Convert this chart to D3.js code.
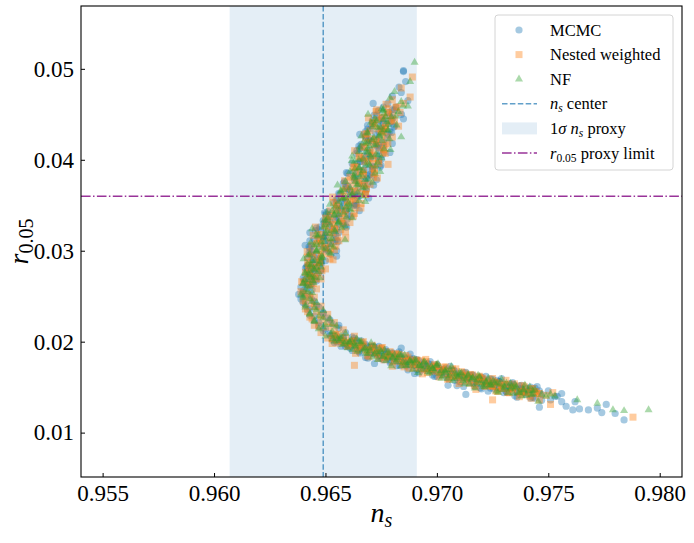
<!DOCTYPE html>
<html><head><meta charset="utf-8">
<script src="https://cdn.jsdelivr.net/npm/d3@7"></script>
<style>body{margin:0;background:#fff}svg{display:block}
svg text{font-family:'Liberation Serif','Times New Roman',serif}</style>
</head><body><svg id="c" width="694" height="543"></svg>
<script>
// ---- data (ns, r0.05) ----
const mcmc = [
[0.9685,0.0498],[0.9683,0.0480],[0.9680,0.0470],[0.9686,0.0486],[0.9678,0.0462],[0.9681,0.0455],[0.9676,0.0458],[0.9684,0.0474],[0.9687,0.0465],[0.9673,0.0449],
[0.9685,0.0497],[0.9668,0.0431],[0.9685,0.0445],[0.9665,0.0415],[0.9646,0.0325],[0.9643,0.0311],
[0.9679,0.0448],[0.9671,0.0443],[0.9676,0.0440],[0.9681,0.0437],[0.9669,0.0434],[0.9674,0.0431],[0.9678,0.0428],[0.9668,0.0425],[0.9673,0.0421],[0.9666,0.0417],[0.9676,0.0415],[0.9670,0.0411],[0.9664,0.0407],[0.9673,0.0404],[0.9667,0.0400],[0.9662,0.0396],[0.9671,0.0393],[0.9665,0.0389],[0.9660,0.0385],[0.9669,0.0382],[0.9663,0.0378],[0.9658,0.0374],[0.9667,0.0371],[0.9661,0.0367],[0.9656,0.0363],[0.9665,0.0360],
[0.9659,0.0357],[0.9654,0.0353],[0.9663,0.0350],[0.9657,0.0347],[0.9651,0.0343],[0.9660,0.0340],[0.9655,0.0337],[0.9649,0.0333],[0.9658,0.0330],[0.9652,0.0327],[0.9647,0.0323],[0.9656,0.0320],[0.9650,0.0316],[0.9645,0.0313],[0.9654,0.0310],[0.9648,0.0306],[0.9643,0.0303],[0.9651,0.0300],[0.9646,0.0296],[0.9642,0.0292],[0.9650,0.0289],[0.9645,0.0285],[0.9641,0.0281],[0.9648,0.0278],[0.9643,0.0274],[0.9640,0.0270],[0.9646,0.0267],[0.9642,0.0263],[0.9639,0.0260],[0.9644,0.0257],
[0.9640,0.0254],[0.9643,0.0251],[0.9639,0.0247],[0.9645,0.0244],[0.9641,0.0241],[0.9647,0.0238],[0.9642,0.0235],[0.9649,0.0232],[0.9643,0.0229],[0.9651,0.0226],[0.9645,0.0223],[0.9653,0.0220],[0.9647,0.0217],[0.9656,0.0215],[0.9649,0.0212],[0.9659,0.0210],[0.9652,0.0207],[0.9662,0.0205],[0.9655,0.0202],[0.9666,0.0201],
[0.9660,0.0196],[0.9663,0.0201],[0.9665,0.0192],[0.9668,0.0197],[0.9670,0.0189],[0.9672,0.0194],[0.9674,0.0185],[0.9676,0.0190],[0.9678,0.0182],[0.9680,0.0187],[0.9682,0.0179],[0.9684,0.0184],[0.9686,0.0176],[0.9688,0.0181],[0.9690,0.0174],[0.9692,0.0179],[0.9694,0.0171],[0.9696,0.0176],[0.9698,0.0169],[0.9700,0.0173],[0.9702,0.0166],[0.9704,0.0171],[0.9706,0.0164],[0.9708,0.0168],[0.9710,0.0161],[0.9712,0.0166],[0.9714,0.0159],[0.9716,0.0163],[0.9718,0.0157],[0.9720,0.0161],
[0.9722,0.0154],[0.9724,0.0159],[0.9726,0.0152],[0.9728,0.0156],[0.9731,0.0150],[0.9733,0.0154],[0.9736,0.0147],[0.9738,0.0152],[0.9741,0.0145],[0.9744,0.0149],[0.9747,0.0142],[0.9750,0.0146],[0.9753,0.0140],[0.9756,0.0143],
[0.9713,0.0142],[0.9746,0.0128],[0.9758,0.0129],[0.9761,0.0125],[0.9764,0.0126],[0.9768,0.0125],[0.9772,0.0127],[0.9774,0.0122],[0.9776,0.0131],[0.9780,0.0121],[0.9784,0.0114],[0.9762,0.0134],[0.9756,0.0134],[0.9754,0.0140],[0.9751,0.0136],
[0.9705,0.0152],[0.9690,0.0165],[0.9672,0.0176],[0.9684,0.0193],[0.9657,0.0195],
[0.96420,0.0262],[0.96430,0.0266],[0.96438,0.0270],[0.96424,0.0274],[0.96445,0.0278],[0.96415,0.0282],[0.96482,0.0286],[0.96444,0.0290],[0.96550,0.0294],[0.96427,0.0298],
[0.96503,0.0302],[0.96409,0.0306],[0.96555,0.0310],[0.96491,0.0314],[0.96537,0.0318],[0.96455,0.0322],[0.96595,0.0326],[0.96495,0.0330],[0.96545,0.0334],[0.96615,0.0338],
[0.96496,0.0342],[0.96598,0.0346],[0.96640,0.0350],[0.96572,0.0354],[0.96694,0.0358],[0.96564,0.0362],[0.96643,0.0366],[0.96592,0.0370],[0.96690,0.0374],[0.96729,0.0378],
[0.96647,0.0382],[0.96594,0.0386],[0.96712,0.0390],[0.96749,0.0394],[0.96656,0.0398],[0.96702,0.0402],[0.96757,0.0406],[0.96641,0.0410],[0.96735,0.0414],[0.96800,0.0418],
[0.96695,0.0422],[0.96681,0.0426],[0.96797,0.0430],[0.96753,0.0434],[0.96689,0.0438],[0.96796,0.0442],[0.96753,0.0446],[0.96841,0.0450],[0.96738,0.0454],[0.96816,0.0458],[0.96714,0.0462],
[0.96440,0.0264],[0.96406,0.0268],[0.96436,0.0272],[0.96471,0.0276],[0.96437,0.0280],[0.96418,0.0284],[0.96480,0.0288],[0.96477,0.0292],[0.96433,0.0296],[0.96550,0.0300],
[0.96426,0.0304],[0.96512,0.0308],[0.96548,0.0312],[0.96494,0.0316],[0.96430,0.0320],[0.96550,0.0324],[0.96590,0.0328],[0.96510,0.0332],[0.96560,0.0336],[0.96510,0.0340],
[0.96652,0.0344],[0.96564,0.0348],[0.96636,0.0352],[0.96548,0.0356],[0.96620,0.0360],[0.96678,0.0364],[0.96597,0.0368],[0.96716,0.0372],[0.96585,0.0376],[0.96683,0.0380],
[0.96700,0.0384],[0.96668,0.0388],[0.96745,0.0392],[0.96642,0.0396],[0.96740,0.0400],[0.96674,0.0404],[0.96789,0.0408],[0.96653,0.0412],[0.96727,0.0416],[0.96702,0.0420],
[0.96778,0.0424],[0.96654,0.0428],[0.96760,0.0432],[0.96806,0.0436],[0.96712,0.0440],[0.96760,0.0444],
[0.96434,0.0263],[0.96408,0.0266],[0.96457,0.0269],[0.96431,0.0272],[0.96455,0.0275],[0.96419,0.0278],[0.96449,0.0281],[0.96474,0.0284],[0.96444,0.0287],[0.96474,0.0290],
[0.96449,0.0293],[0.96524,0.0296],[0.96438,0.0299],[0.96503,0.0302],[0.96438,0.0305],[0.96522,0.0308],[0.96497,0.0311],[0.96471,0.0314],[0.96546,0.0317],[0.96500,0.0320],
[0.96528,0.0323],[0.96475,0.0326],[0.96563,0.0329],[0.96520,0.0332],[0.96598,0.0335],[0.96515,0.0338],[0.96563,0.0341],[0.96591,0.0344],[0.96549,0.0347],[0.96628,0.0350],
[0.96586,0.0353],[0.96554,0.0356],[0.96642,0.0359],[0.96630,0.0362],[0.96607,0.0365],[0.96684,0.0368],[0.96601,0.0371],[0.96648,0.0374],[0.96676,0.0377],[0.96633,0.0380],
[0.96709,0.0383],[0.96624,0.0386],[0.96690,0.0389],[0.96715,0.0392],[0.96681,0.0395],[0.96656,0.0398],[0.96751,0.0401],[0.96704,0.0404],[0.96688,0.0407],[0.96741,0.0410],
[0.96664,0.0413],[0.96738,0.0416],[0.96761,0.0419],[0.96695,0.0422],[0.96740,0.0425],[0.96724,0.0428],[0.96789,0.0431],[0.96703,0.0434],[0.96748,0.0437],[0.96782,0.0440],
[0.96738,0.0443],[0.96803,0.0446],[0.96719,0.0449],[0.96785,0.0452],[0.96800,0.0455],
[0.9652,0.0209],[0.9654,0.0199],[0.9656,0.0203],[0.9658,0.0205],[0.9660,0.0196],[0.9662,0.01904],[0.9664,0.02018],[0.9666,0.01932],[0.9668,0.01826],[0.9670,0.0194],
[0.9672,0.01864],[0.9674,0.01948],[0.9676,0.01802],[0.9678,0.01846],[0.9680,0.0188],[0.9682,0.01736],[0.9684,0.01822],[0.9686,0.01738],[0.9688,0.01864],[0.9690,0.0174],
[0.9692,0.01656],[0.9694,0.01772],[0.9696,0.01728],[0.9698,0.01634],[0.9700,0.0175],[0.9702,0.01636],[0.9704,0.01652],[0.9706,0.01728],[0.9708,0.01574],[0.9710,0.0165],
[0.9712,0.01508],[0.9714,0.01596],[0.9716,0.01634],[0.9718,0.01542],[0.9720,0.0148],[0.9722,0.0162],[0.9724,0.0149],[0.9726,0.0155],[0.9728,0.0156],[0.9730,0.0144],
[0.9732,0.0149],[0.9734,0.0155],[0.9736,0.0139],[0.9738,0.0148],[0.9740,0.0142],[0.9742,0.0150],[0.9744,0.0138],[0.9746,0.0146],
[0.9653,0.02026],[0.9655,0.02066],[0.9657,0.02004],[0.9659,0.01948],[0.9661,0.0199],[0.9663,0.02036],[0.9665,0.0189],[0.9667,0.01944],[0.9669,0.01818],[0.9671,0.01942],
[0.9673,0.01876],[0.9675,0.0183],[0.9677,0.01914],[0.9679,0.01768],[0.9681,0.01823],[0.9683,0.01889],[0.9685,0.01765],[0.9687,0.01691],[0.9689,0.01797],[0.9691,0.01803],
[0.9693,0.01689],[0.9695,0.01705],[0.9697,0.01781],[0.9699,0.01617],[0.9701,0.01703],[0.9703,0.01679],[0.9705,0.01595],[0.9707,0.01681],[0.9709,0.01517],[0.9711,0.01604],
[0.9713,0.01662],[0.9715,0.0155],[0.9717,0.01508],[0.9719,0.01596],[0.9721,0.01555],[0.9723,0.01455],[0.9725,0.01585],[0.9727,0.01495],[0.9729,0.01595],[0.9731,0.01455],
[0.9733,0.01515],[0.9735,0.01405],[0.9737,0.01515],[0.9739,0.01445],[0.9741,0.01465],[0.9743,0.01385],[0.9745,0.01505],[0.9747,0.01355],
[0.96535,0.02063],[0.96550,0.0200],[0.96565,0.02021],[0.96580,0.02036],[0.96595,0.01973],[0.96610,0.01932],[0.96625,0.0201],[0.96640,0.01948],[0.96655,0.01876],[0.96670,0.01944],
[0.96685,0.01952],[0.96700,0.0187],[0.96715,0.01948],[0.96730,0.01866],[0.96745,0.01814],[0.96760,0.01872],[0.96775,0.0189],[0.96790,0.01788],[0.96805,0.01817],[0.96820,0.01836],
[0.96835,0.01736],[0.96850,0.01795],[0.96865,0.01815],[0.96880,0.01744],[0.96895,0.01814],[0.96910,0.01693],[0.96925,0.01733],[0.96940,0.01752],[0.96955,0.01682],[0.96970,0.01751],
[0.96985,0.01681],[0.97000,0.0162],[0.97015,0.0169],[0.97030,0.01699],[0.97045,0.01609],[0.97060,0.01648],[0.97075,0.01688],[0.97090,0.01597],[0.97105,0.01557],[0.97120,0.01628],
[0.97135,0.01589],[0.97150,0.0163],[0.97165,0.01541],[0.97180,0.01582],[0.97195,0.01493],[0.97210,0.01585],[0.97225,0.01528],[0.97240,0.0154],[0.97255,0.01483],[0.97270,0.01575],
[0.97285,0.01488],[0.97300,0.0153],[0.97315,0.01443],[0.97330,0.01485],[0.97345,0.01528],[0.97360,0.0144],[0.97375,0.01483],[0.97390,0.01445],[0.97405,0.01488],[0.97420,0.0138],[0.97435,0.01443],
[0.9641,0.0250],[0.9644,0.0246],[0.9640,0.0243],[0.9646,0.0240],[0.9643,0.0236],[0.9649,0.0231],[0.9645,0.0228],[0.9652,0.0224],[0.9647,0.0221],[0.9656,0.0218],[0.9650,0.0214],[0.9640,0.0256],[0.9638,0.0252],[0.9642,0.0259]
];
const nested = [
[0.9689,0.0491],[0.9688,0.0469],[0.9684,0.0479],[0.9680,0.0466],[0.9673,0.0444],[0.9682,0.0458],[0.9678,0.0452],[0.9685,0.0462],
[0.9675,0.0446],[0.9679,0.0442],[0.9672,0.0438],[0.9677,0.0435],[0.9670,0.0432],[0.9675,0.0428],[0.9668,0.0424],[0.9673,0.0420],[0.9678,0.0418],[0.9667,0.0414],[0.9671,0.0410],[0.9676,0.0408],[0.9665,0.0403],[0.9669,0.0399],[0.9674,0.0396],[0.9663,0.0392],[0.9667,0.0388],[0.9672,0.0385],[0.9661,0.0381],[0.9665,0.0377],[0.9670,0.0373],[0.9659,0.0369],[0.9663,0.0366],[0.9668,0.0362],
[0.9657,0.0359],[0.9661,0.0355],[0.9666,0.0352],[0.9655,0.0349],[0.9659,0.0345],[0.9663,0.0341],[0.9652,0.0338],[0.9657,0.0335],[0.9661,0.0331],[0.9650,0.0328],[0.9654,0.0325],[0.9659,0.0321],[0.9648,0.0318],[0.9652,0.0314],[0.9656,0.0311],[0.9646,0.0308],[0.9650,0.0304],[0.9654,0.0301],[0.9644,0.0298],[0.9648,0.0294],[0.9652,0.0291],[0.9642,0.0287],[0.9646,0.0283],[0.9650,0.0280],[0.9641,0.0276],[0.9645,0.0272],[0.9648,0.0269],[0.9640,0.0265],[0.9643,0.0262],[0.9646,0.0258],
[0.9639,0.0255],[0.9642,0.0252],[0.9645,0.0249],[0.9640,0.0245],[0.9644,0.0242],[0.9648,0.0239],[0.9641,0.0236],[0.9646,0.0233],[0.9651,0.0230],[0.9643,0.0227],[0.9648,0.0224],[0.9654,0.0221],[0.9645,0.0218],[0.9651,0.0216],[0.9658,0.0213],[0.9648,0.0210],[0.9655,0.0208],[0.9663,0.0206],[0.9651,0.0204],[0.9659,0.0199],
[0.9662,0.0198],[0.9664,0.0194],[0.9667,0.0200],[0.9669,0.0191],[0.9671,0.0196],[0.9673,0.0188],[0.9675,0.0193],[0.9677,0.0184],[0.9679,0.0189],[0.9681,0.0181],[0.9683,0.0186],[0.9685,0.0178],[0.9687,0.0183],[0.9689,0.0175],[0.9691,0.0180],[0.9693,0.0173],[0.9695,0.0178],[0.9697,0.0170],[0.9699,0.0175],[0.9701,0.0167],[0.9703,0.0172],[0.9705,0.0165],[0.9707,0.0170],[0.9709,0.0162],[0.9711,0.0167],[0.9713,0.0160],[0.9715,0.0164],[0.9717,0.0158],[0.9719,0.0162],[0.9721,0.0156],
[0.9723,0.0158],[0.9725,0.0151],[0.9727,0.0155],[0.9729,0.0149],[0.9732,0.0153],[0.9734,0.0147],[0.9738,0.0145],[0.9742,0.0148],[0.9745,0.0143],[0.9749,0.0141],[0.9752,0.0144],
[0.9788,0.0117],[0.9751,0.0131],[0.9746,0.0143],[0.9738,0.0145],[0.9725,0.0151],[0.9719,0.0161],[0.9725,0.0136],[0.9663,0.0174],[0.9653,0.0198],
[0.96425,0.0263],[0.96393,0.0266],[0.96457,0.0269],[0.96436,0.0272],[0.96420,0.0275],[0.96484,0.0278],[0.96439,0.0281],[0.96424,0.0284],[0.96474,0.0287],[0.96534,0.0290],
[0.96419,0.0293],[0.96484,0.0296],[0.96418,0.0299],[0.96523,0.0302],[0.96547,0.0305],[0.96482,0.0308],[0.96466,0.0311],[0.96591,0.0314],[0.96445,0.0317],[0.96530,0.0320],
[0.96568,0.0323],[0.96455,0.0326],[0.96533,0.0329],[0.96580,0.0332],[0.96508,0.0335],[0.96625,0.0338],[0.96543,0.0341],[0.96521,0.0344],[0.96659,0.0347],[0.96598,0.0350],
[0.96536,0.0353],[0.96634,0.0356],[0.96532,0.0359],[0.96680,0.0362],[0.96617,0.0365],[0.96684,0.0368],[0.96611,0.0371],[0.96668,0.0374],[0.96586,0.0377],[0.96733,0.0380],
[0.96669,0.0383],[0.96634,0.0386],[0.96720,0.0389],[0.96625,0.0392],[0.96781,0.0395],[0.96676,0.0398],[0.96711,0.0401],[0.96654,0.0404],[0.96768,0.0407],[0.96631,0.0410],
[0.96744,0.0413],[0.96768,0.0416],[0.96691,0.0419],[0.96725,0.0422],[0.96800,0.0425],[0.96674,0.0428],[0.96759,0.0431],[0.96733,0.0434],[0.96828,0.0437],[0.96712,0.0440],
[0.96798,0.0443],[0.96693,0.0446],[0.96779,0.0449],[0.96835,0.0452],[0.96730,0.0455],[0.96816,0.0458],[0.96772,0.0461],
[0.96445,0.0264],[0.96414,0.0267],[0.96439,0.0270],[0.96428,0.0273],[0.96467,0.0276],[0.96426,0.0279],[0.96460,0.0282],[0.96430,0.0285],[0.96475,0.0288],[0.96465,0.0291],
[0.96440,0.0294],[0.96515,0.0297],[0.96470,0.0300],[0.96495,0.0303],[0.96439,0.0306],[0.96524,0.0309],[0.96478,0.0312],[0.96553,0.0315],[0.96467,0.0318],[0.96513,0.0321],
[0.96540,0.0324],[0.96498,0.0327],[0.96575,0.0330],[0.96533,0.0333],[0.96500,0.0336],[0.96588,0.0339],[0.96576,0.0342],[0.96554,0.0345],[0.96632,0.0348],[0.96550,0.0351],
[0.96599,0.0354],[0.96627,0.0357],[0.96585,0.0360],[0.96662,0.0363],[0.96579,0.0366],[0.96647,0.0369],[0.96674,0.0372],[0.96641,0.0375],[0.96618,0.0378],[0.96715,0.0381],
[0.96671,0.0384],[0.96656,0.0387],[0.96712,0.0390],[0.96637,0.0393],[0.96713,0.0396],[0.96738,0.0399],[0.96672,0.0402],[0.96716,0.0405],[0.96699,0.0408],[0.96762,0.0411],
[0.96675,0.0414],[0.96719,0.0417],[0.96752,0.0420],[0.96707,0.0423],[0.96771,0.0426],[0.96686,0.0429],[0.96750,0.0432],[0.96765,0.0435],[0.96769,0.0438],[0.96714,0.0441],
[0.96810,0.0444],[0.96755,0.0447],[0.96801,0.0450],[0.96727,0.0453],[0.96782,0.0456],
[0.96530,0.02032],[0.96545,0.02077],[0.96560,0.01984],[0.96575,0.02011],[0.96590,0.02044],[0.96605,0.01952],[0.96620,0.02004],[0.96635,0.01872],[0.96650,0.0196],[0.96665,0.01988],
[0.96680,0.01906],[0.96695,0.01834],[0.96710,0.01942],[0.96725,0.0188],[0.96740,0.01818],[0.96755,0.01936],[0.96770,0.01824],[0.96785,0.01862],[0.96800,0.0173],[0.96815,0.0187],
[0.96830,0.01809],[0.96845,0.01749],[0.96860,0.01848],[0.96875,0.01708],[0.96890,0.01777],[0.96905,0.01787],[0.96920,0.01706],[0.96935,0.01646],[0.96950,0.01805],[0.96965,0.01705],
[0.96980,0.01674],[0.96995,0.01734],[0.97010,0.01613],[0.97025,0.01693],[0.97040,0.01722],[0.97055,0.01592],[0.97070,0.01621],[0.97085,0.01701],[0.97100,0.0154],[0.97115,0.01621],
[0.97130,0.01632],[0.97145,0.01543],[0.97160,0.01634],[0.97175,0.01475],[0.97190,0.01566],[0.97205,0.01598],[0.97220,0.0151],[0.97235,0.01533],[0.97250,0.01595],[0.97265,0.01458],
[0.97280,0.0154],[0.97295,0.01483],[0.97310,0.01575],[0.97325,0.01438],[0.97340,0.0149],[0.97355,0.01513],[0.97370,0.01395],[0.97385,0.01518],[0.97400,0.0144],[0.97415,0.01403],
[0.97430,0.01485],[0.97445,0.01448],[0.97460,0.0136],
[0.96538,0.02067],[0.96553,0.0201],[0.96568,0.02049],[0.96583,0.01992],[0.96598,0.01953],[0.96613,0.01982],[0.96628,0.02008],[0.96643,0.01906],[0.96658,0.01934],[0.96673,0.01952],
[0.96688,0.0185],[0.96703,0.01908],[0.96718,0.01926],[0.96733,0.01854],[0.96748,0.01922],[0.96763,0.0180],[0.96778,0.01838],[0.96793,0.01856],[0.96808,0.01785],[0.96823,0.01854],
[0.96838,0.01784],[0.96853,0.01723],[0.96868,0.01793],[0.96883,0.01802],[0.96898,0.01712],[0.96913,0.01751],[0.96928,0.01791],[0.96943,0.0170],[0.96958,0.0166],[0.96973,0.01729],
[0.96988,0.01689],[0.97003,0.01728],[0.97018,0.01638],[0.97033,0.01677],[0.97048,0.01587],[0.97063,0.01676],[0.97078,0.01616],[0.97093,0.01625],[0.97108,0.01565],[0.97123,0.01656],
[0.97138,0.01567],[0.97153,0.01608],[0.97168,0.01519],[0.97183,0.0156],[0.97198,0.01601],[0.97213,0.01513],[0.97228,0.01556],[0.97243,0.01518],[0.97258,0.01561],[0.97273,0.01453],
[0.97288,0.01516],[0.97303,0.01528],[0.97318,0.01441],[0.97333,0.01493],[0.97348,0.01536],[0.97363,0.01448],[0.97378,0.01421],[0.97393,0.01503],[0.97408,0.01446],[0.97423,0.01378],[0.97438,0.01451],
[0.9640,0.0253],[0.9643,0.0249],[0.9641,0.0244],[0.9645,0.0239],[0.9642,0.0233],[0.9648,0.0229],[0.9644,0.0225],[0.9651,0.0222],[0.9647,0.0217],[0.9654,0.0215]
];
const nf = [
[0.9690,0.0507],[0.9688,0.0486],[0.9687,0.0459],[0.9684,0.0464],[0.9681,0.0475],[0.9684,0.0425],[0.9662,0.0404],[0.9679,0.0468],[0.9676,0.0455],
[0.9677,0.0447],[0.9673,0.0443],[0.9678,0.0439],[0.9671,0.0436],[0.9676,0.0433],[0.9669,0.0429],[0.9674,0.0426],[0.9671,0.0422],[0.9667,0.0419],[0.9672,0.0416],[0.9669,0.0412],[0.9665,0.0409],[0.9670,0.0405],[0.9667,0.0401],[0.9663,0.0398],[0.9668,0.0394],[0.9665,0.0391],[0.9661,0.0387],[0.9666,0.0384],[0.9663,0.0380],[0.9659,0.0376],[0.9664,0.0372],[0.9661,0.0369],[0.9657,0.0365],[0.9662,0.0361],
[0.9659,0.0358],[0.9656,0.0354],[0.9661,0.0351],[0.9657,0.0348],[0.9653,0.0344],[0.9658,0.0342],[0.9654,0.0339],[0.9651,0.0336],[0.9656,0.0332],[0.9652,0.0329],[0.9649,0.0326],[0.9654,0.0323],[0.9650,0.0319],[0.9647,0.0317],[0.9652,0.0313],[0.9648,0.0309],[0.9645,0.0306],[0.9650,0.0302],[0.9646,0.0299],[0.9643,0.0296],[0.9648,0.0292],[0.9644,0.0289],[0.9642,0.0285],[0.9646,0.0282],[0.9643,0.0278],[0.9641,0.0275],[0.9645,0.0271],[0.9642,0.0268],[0.9640,0.0264],[0.9643,0.0261],
[0.9641,0.0257],[0.9644,0.0254],[0.9640,0.0250],[0.9643,0.0247],[0.9646,0.0243],[0.9641,0.0240],[0.9645,0.0237],[0.9649,0.0234],[0.9643,0.0231],[0.9647,0.0228],[0.9652,0.0225],[0.9645,0.0222],[0.9650,0.0219],[0.9655,0.0217],[0.9647,0.0214],[0.9653,0.0211],[0.9659,0.0209],[0.9650,0.0206],[0.9657,0.0203],[0.9664,0.0203],
[0.9661,0.0199],[0.9663,0.0195],[0.9666,0.0198],[0.9668,0.0193],[0.9670,0.0190],[0.9672,0.0195],[0.9674,0.0187],[0.9676,0.0184],[0.9678,0.0188],[0.9680,0.0183],[0.9682,0.0180],[0.9684,0.0185],[0.9686,0.0177],[0.9688,0.0179],[0.9690,0.0176],[0.9692,0.0174],[0.9694,0.0177],[0.9696,0.0172],[0.9698,0.0170],[0.9700,0.0174],[0.9702,0.0168],[0.9704,0.0166],[0.9706,0.0169],[0.9708,0.0165],[0.9710,0.0163],[0.9712,0.0161],[0.9714,0.0164],[0.9716,0.0160],[0.9718,0.0158],[0.9720,0.0157],
[0.9722,0.0156],[0.9724,0.0153],[0.9727,0.0154],[0.9730,0.0151],[0.9733,0.0154],[0.9735,0.0149],[0.9739,0.0147],[0.9743,0.0146],[0.9747,0.0142],[0.9751,0.0142],
[0.9795,0.0125],[0.9784,0.0124],[0.9779,0.0125],[0.9772,0.0132],[0.9763,0.0136],[0.9753,0.0140],[0.9749,0.0140],
[0.96400,0.0264],[0.96444,0.0267],[0.96474,0.0270],[0.96428,0.0273],[0.96407,0.0276],[0.96451,0.0279],[0.96480,0.0282],[0.96435,0.0285],[0.96480,0.0288],[0.96402,0.0291],
[0.96484,0.0294],[0.96524,0.0297],[0.96459,0.0300],[0.96485,0.0303],[0.96524,0.0306],[0.96434,0.0309],[0.96588,0.0312],[0.96493,0.0315],[0.96457,0.0318],[0.96543,0.0321],
[0.96440,0.0324],[0.96588,0.0327],[0.96555,0.0330],[0.96503,0.0333],[0.96620,0.0336],[0.96538,0.0339],[0.96506,0.0342],[0.96614,0.0345],[0.96592,0.0348],[0.96520,0.0351],
[0.96679,0.0354],[0.96577,0.0357],[0.96665,0.0360],[0.96622,0.0363],[0.96569,0.0366],[0.96667,0.0369],[0.96554,0.0372],[0.96711,0.0375],[0.96678,0.0378],[0.96655,0.0381],
[0.96631,0.0384],[0.96746,0.0387],[0.96632,0.0390],[0.96727,0.0393],[0.96693,0.0396],[0.96618,0.0399],[0.96752,0.0402],[0.96736,0.0405],[0.96689,0.0408],[0.96792,0.0411],
[0.96655,0.0414],[0.96729,0.0417],[0.96692,0.0420],[0.96787,0.0423],[0.96661,0.0426],[0.96756,0.0429],[0.96780,0.0432],[0.96735,0.0435],[0.96819,0.0438],[0.96704,0.0441],
[0.96760,0.0444],[0.96795,0.0447],[0.96691,0.0450],[0.96827,0.0453],[0.96752,0.0456],[0.96848,0.0459],
[0.96413,0.0262],[0.96447,0.0265],[0.96406,0.0268],[0.96440,0.0271],[0.96424,0.0274],[0.96468,0.0277],[0.96447,0.0280],[0.96432,0.0283],[0.96472,0.0286],[0.96452,0.0289],
[0.96487,0.0292],[0.96422,0.0295],[0.96517,0.0298],[0.96462,0.0301],[0.96536,0.0304],[0.96461,0.0307],[0.96495,0.0310],[0.96530,0.0313],[0.96464,0.0316],[0.96519,0.0319],
[0.96505,0.0322],[0.96573,0.0325],[0.96500,0.0328],[0.96558,0.0331],[0.96495,0.0334],[0.96593,0.0337],[0.96560,0.0340],[0.96548,0.0343],[0.96607,0.0346],[0.96545,0.0349],
[0.96603,0.0352],[0.96651,0.0355],[0.96580,0.0358],[0.96607,0.0361],[0.96645,0.0364],[0.96582,0.0367],[0.96679,0.0370],[0.96646,0.0373],[0.96633,0.0376],[0.96691,0.0379],
[0.96627,0.0382],[0.96722,0.0385],[0.96668,0.0388],[0.96653,0.0391],[0.96699,0.0394],[0.96734,0.0397],[0.96650,0.0400],[0.96703,0.0403],[0.96727,0.0406],[0.96680,0.0409],
[0.96763,0.0412],[0.96697,0.0415],[0.96680,0.0418],[0.96754,0.0421],[0.96718,0.0424],[0.96743,0.0427],[0.96687,0.0430],[0.96782,0.0433],[0.96746,0.0436],[0.96721,0.0439],
[0.96776,0.0442],[0.96721,0.0445],[0.96817,0.0448],[0.96763,0.0451],[0.96758,0.0454],
[0.96525,0.02079],[0.96540,0.02004],[0.96555,0.02031],[0.96570,0.02058],[0.96585,0.01977],[0.96600,0.01932],[0.96615,0.02018],[0.96630,0.01976],[0.96645,0.01894],[0.96660,0.02002],
[0.96675,0.0192],[0.96690,0.01868],[0.96705,0.01986],[0.96720,0.01864],[0.96735,0.01802],[0.96750,0.0189],[0.96765,0.01908],[0.96780,0.01826],[0.96795,0.01734],[0.96810,0.01853],
[0.96825,0.01823],[0.96840,0.01732],[0.96855,0.01852],[0.96870,0.01741],[0.96885,0.01771],[0.96900,0.0180],[0.96915,0.0166],[0.96930,0.01729],[0.96945,0.01779],[0.96960,0.01668],
[0.96975,0.01728],[0.96990,0.01677],[0.97005,0.01757],[0.97020,0.01596],[0.97035,0.01676],[0.97050,0.01595],[0.97065,0.01725],[0.97080,0.01594],[0.97095,0.01614],[0.97110,0.01654],
[0.97125,0.01535],[0.97140,0.01626],[0.97155,0.01587],[0.97170,0.01488],[0.97185,0.01629],[0.97200,0.0153],[0.97215,0.01503],[0.97230,0.01595],[0.97245,0.01518],[0.97260,0.0155],
[0.97275,0.01443],[0.97290,0.01585],[0.97305,0.01498],[0.97320,0.0144],[0.97335,0.01503],[0.97350,0.01525],[0.97365,0.01438],[0.97380,0.0140],[0.97395,0.01523],[0.97410,0.01455],
[0.97425,0.01418],[0.97440,0.0147],[0.97455,0.01343],
[0.96532,0.0203],[0.96547,0.02063],[0.96562,0.02012],[0.96577,0.01967],[0.96592,0.0200],[0.96607,0.01998],[0.96622,0.01912],[0.96637,0.0195],[0.96652,0.01998],[0.96667,0.01906],
[0.96682,0.01874],[0.96697,0.01932],[0.96712,0.0183],[0.96727,0.01888],[0.96742,0.01916],[0.96757,0.01834],[0.96772,0.01792],[0.96787,0.0187],[0.96802,0.01819],[0.96817,0.01778],
[0.96832,0.01858],[0.96847,0.01777],[0.96862,0.01737],[0.96877,0.01786],[0.96892,0.01696],[0.96907,0.01795],[0.96922,0.01735],[0.96937,0.01694],[0.96952,0.01744],[0.96967,0.01653],
[0.96982,0.01703],[0.96997,0.01742],[0.97012,0.01652],[0.97027,0.01621],[0.97042,0.01691],[0.97057,0.0163],[0.97072,0.0157],[0.97087,0.01639],[0.97102,0.01659],[0.97117,0.0157],
[0.97132,0.01591],[0.97147,0.01532],[0.97162,0.01603],[0.97177,0.01544],[0.97192,0.01615],[0.97207,0.01507],[0.97222,0.0155],[0.97237,0.01522],[0.97252,0.01565],[0.97267,0.01457],
[0.97282,0.0153],[0.97297,0.01472],[0.97312,0.01545],[0.97327,0.01487],[0.97342,0.0143],[0.97357,0.01502],[0.97372,0.01445],[0.97387,0.01467],[0.97402,0.0141],[0.97417,0.01502],[0.97432,0.01425],
[0.9642,0.0255],[0.9640,0.0248],[0.9644,0.0244],[0.9641,0.0238],[0.9646,0.0235],[0.9643,0.0230],[0.9649,0.0226],[0.9645,0.0223],[0.9653,0.0219],[0.9649,0.0216],[0.9639,0.0252]
];
const xTicks = [0.955, 0.960, 0.965, 0.970, 0.975, 0.980];
const yTicks = [0.01, 0.02, 0.03, 0.04, 0.05];
const nsCenter = 0.9649;
const nsBand = [0.9607, 0.9691];
const rLimit = 0.036;
const xDomain = [0.95403, 0.98100];
const yDomain = [0.00512, 0.05691];

// ---- layout ----
const L = 81, R = 682, T = 6, B = 477;
const FONT = "'Liberation Serif','Times New Roman',serif";
const svg = d3.select("#c");
const x = d3.scaleLinear().domain(xDomain).range([L, R]);
const y = d3.scaleLinear().domain(yDomain).range([B, T]);
const blue = "#1f77b4", orange = "#ff7f0e", green = "#2ca02c";

svg.append("defs").append("clipPath").attr("id","clip")
  .append("rect").attr("x",L).attr("y",T).attr("width",R-L).attr("height",B-T);
const plot = svg.append("g").attr("clip-path","url(#clip)");

plot.append("rect").attr("x", x(nsBand[0])).attr("y", T)
  .attr("width", x(nsBand[1]) - x(nsBand[0])).attr("height", B - T)
  .attr("fill", blue).attr("fill-opacity", 0.12);
plot.append("line").attr("x1", x(nsCenter)).attr("x2", x(nsCenter)).attr("y1", T).attr("y2", B)
  .attr("stroke", blue).attr("stroke-opacity", 0.7).attr("stroke-width", 1.5).attr("stroke-dasharray", "5.5,2.4");

const cr = 3.6, sq = 7.0;
plot.append("g").selectAll("circle").data(mcmc).join("circle")
  .attr("cx", d => x(d[0])).attr("cy", d => y(d[1])).attr("r", cr)
  .attr("fill", blue).attr("fill-opacity", 0.4);
plot.append("g").selectAll("rect").data(nested).join("rect")
  .attr("x", d => x(d[0]) - sq/2).attr("y", d => y(d[1]) - sq/2).attr("width", sq).attr("height", sq)
  .attr("fill", orange).attr("fill-opacity", 0.4);
const tri = d3.symbol().type(d3.symbolTriangle).size(28);
plot.append("g").selectAll("path").data(nf).join("path")
  .attr("d", tri).attr("transform", d => `translate(${x(d[0])},${y(d[1])})`)
  .attr("fill", green).attr("fill-opacity", 0.4);

plot.append("line").attr("x1", L).attr("x2", R).attr("y1", y(rLimit)).attr("y2", y(rLimit))
  .attr("stroke", "#800080").attr("stroke-opacity", 0.8).attr("stroke-width", 1.5)
  .attr("stroke-dasharray", "9.6,2.4,1.5,2.4");

const xa = svg.append("g").attr("transform", `translate(0,${B})`)
  .call(d3.axisBottom(x).tickValues(xTicks).tickSize(-4).tickPadding(8).tickFormat(d3.format(".3f")));
const ya = svg.append("g").attr("transform", `translate(${L},0)`)
  .call(d3.axisLeft(y).tickValues(yTicks).tickSize(-4).tickPadding(7).tickFormat(d3.format(".2f")));
[xa, ya].forEach(a => {
  a.attr("font-family", FONT).attr("font-size", 23);
  a.select(".domain").remove();
  a.selectAll("line").attr("stroke", "#000").attr("stroke-width", 1);
  a.selectAll("text").style("font-family", FONT).attr("font-size", 23).attr("fill", "#000");
});
svg.append("rect").attr("x", L).attr("y", T).attr("width", R - L).attr("height", B - T)
  .attr("fill", "none").attr("stroke", "#000").attr("stroke-width", 1.1);

const xl = svg.append("text").attr("x", (L + R) / 2).attr("y", 522).attr("text-anchor", "middle")
  .attr("font-size", 28);
xl.append("tspan").attr("font-style", "italic").text("n");
xl.append("tspan").attr("font-style", "italic").attr("font-size", 20).attr("dy", 5).text("s");
const yl = svg.append("text").attr("transform", `translate(28,${(T + B) / 2}) rotate(-90)`)
  .attr("text-anchor", "middle").attr("font-size", 28);
yl.append("tspan").attr("font-style", "italic").text("r");
yl.append("tspan").attr("font-size", 20).attr("dy", 5).text("0.05");

const lg = svg.append("g");
lg.append("rect").attr("x", 495).attr("y", 15).attr("width", 178).attr("height", 155).attr("rx", 3)
  .attr("fill", "#fff").attr("fill-opacity", 0.85).attr("stroke", "#d4d4d4").attr("stroke-width", 1);
const rowY = i => 30 + i * 24.6;
const hx = 519, tx = 550, fs = 16.5;
lg.append("circle").attr("cx", hx).attr("cy", rowY(0)).attr("r", cr).attr("fill", blue).attr("fill-opacity", 0.4);
lg.append("rect").attr("x", hx - sq/2).attr("y", rowY(1) - sq/2).attr("width", sq).attr("height", sq).attr("fill", orange).attr("fill-opacity", 0.4);
lg.append("path").attr("d", tri).attr("transform", `translate(${hx},${rowY(2)})`).attr("fill", green).attr("fill-opacity", 0.4);
lg.append("line").attr("x1", 502).attr("x2", 537).attr("y1", rowY(3)).attr("y2", rowY(3))
  .attr("stroke", blue).attr("stroke-opacity", 0.7).attr("stroke-width", 1.5).attr("stroke-dasharray", "5.5,2.4");
lg.append("rect").attr("x", 502).attr("y", rowY(4) - 6).attr("width", 35).attr("height", 12).attr("fill", blue).attr("fill-opacity", 0.12);
lg.append("line").attr("x1", 502).attr("x2", 537).attr("y1", rowY(5)).attr("y2", rowY(5))
  .attr("stroke", "#800080").attr("stroke-opacity", 0.8).attr("stroke-width", 1.5).attr("stroke-dasharray", "9.6,2.4,1.5,2.4");

function ltext(i) {
  return lg.append("text").attr("x", tx).attr("y", rowY(i) + 5.5).attr("font-size", fs).attr("fill", "#000");
}
ltext(0).text("MCMC");
ltext(1).text("Nested weighted");
ltext(2).text("NF");
let t = ltext(3);
t.append("tspan").attr("font-style", "italic").text("n");
t.append("tspan").attr("font-style", "italic").attr("font-size", 11.5).attr("dy", 3).text("s");
t.append("tspan").attr("dy", -3).text(" center");
t = ltext(4);
t.append("tspan").text("1");
t.append("tspan").attr("font-style", "italic").text("σ ");
t.append("tspan").attr("font-style", "italic").text("n");
t.append("tspan").attr("font-style", "italic").attr("font-size", 11.5).attr("dy", 3).text("s");
t.append("tspan").attr("dy", -3).text(" proxy");
t = ltext(5);
t.append("tspan").attr("font-style", "italic").text("r");
t.append("tspan").attr("font-size", 11.5).attr("dy", 3).text("0.05");
t.append("tspan").attr("dy", -3).text(" proxy limit");
</script></body></html>
